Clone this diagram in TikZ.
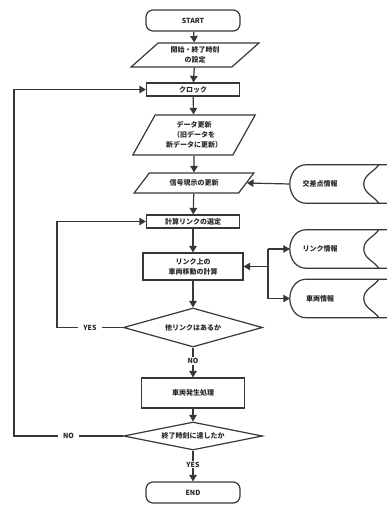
\documentclass[tikz,border=0pt]{standalone}
\usepackage{fontspec}
\setmainfont{Noto Sans CJK JP}
\usetikzlibrary{arrows.meta,shapes.geometric,calc}
\definecolor{fcInk} {RGB}{ 55, 55, 55}
\definecolor{fcText}{RGB}{ 40, 40, 40}

% outline of a stored-data symbol, open to the right edge
\newcommand\storeoutline[1]{%
  \draw[outline] ([xshift=97pt]#1.north west) -- ([xshift=16pt]#1.north west)
    to[out=180,in=90] (#1.west) to[out=-90,in=180] ([xshift=16pt]#1.south west)
    -- ([xshift=97pt]#1.south west);
  \draw[outline] ([xshift=89pt]#1.north west) to[out=-125,in=90] ([xshift=74pt]#1.west)
    to[out=-90,in=125] ([xshift=89pt]#1.south west);}

\begin{document}
\begin{tikzpicture}[x=1pt, y=-1pt,
  >={Triangle[length=6.5pt,width=7.5pt]},
  txt/.style={font=\fontsize{7}{10}\selectfont\bfseries, text=fcText, align=center},
  outline/.style={draw=fcInk, line width=1.2pt},
  base/.style={txt, outline, inner sep=1pt},
  term/.style={base, rounded corners=7pt, minimum width=94pt, minimum height=21pt},
  io/.style={base, trapezium, trapezium stretches=true,
             trapezium left angle=#1, trapezium right angle={180-#1}},
  proc/.style={base, rectangle, minimum height=13pt},
  test/.style={base, diamond, aspect=3.5, inner sep=0pt, minimum width=139pt},
  store/.style={txt, minimum width=60pt, minimum height=38pt, inner sep=0pt},
  flow/.style={->, outline},
  lbl/.style={txt, fill=white, inner ysep=1pt, inner xsep=5pt},
]
  \useasboundingbox (0,0) rectangle (387,505);

  % main column
  \node[term] (start) at (193, 20.5) {START};
  \node[io=45, minimum width=128pt, minimum height=24pt] (settime) at (195, 55)
       {開始・終了時刻\\の設定};
  \node[proc, minimum width=93pt] (clock) at (193, 89.5) {クロック};
  \node[io=60, minimum width=123pt, minimum height=40pt] (update) at (194, 135)
       {データ更新\\（旧データを\\新データに更新）};
  \node[io=45, minimum width=120pt, minimum height=20pt] (signal) at (194, 183)
       {信号現示の更新};
  \node[proc, minimum width=93pt] (select) at (193, 221.5) {計算リンクの選定};
  \node[proc, minimum width=100pt, minimum height=27pt] (move) at (193, 266.5)
       {リンク上の\\車両移動の計算};
  \node[test, minimum height=39pt] (other) at (193, 327.5) {他リンクはあるか};
  \node[proc, minimum width=103pt, minimum height=30pt] (gen) at (193, 393) {車両発生処理};
  \node[test, minimum height=28pt] (endq) at (193, 436) {終了時刻に達したか};
  \node[term] (stop) at (193, 492.5) {END};

  % stored data on the right
  \node[store] (cross) at (320, 184) {交差点情報};
  \node[store] (link)  at (320, 249) {リンク情報};
  \node[store] (car)   at (320, 298.5) {車両情報};
  \storeoutline{cross}
  \storeoutline{link}
  \storeoutline{car}

  \coordinate (jn) at (268, 266.5);
  \coordinate (yesback) at (57, 0);
  \coordinate (noback) at (14, 0);

  % straight flow
  \draw[flow] (start) -- (settime);
  \draw[flow] (settime) -- (clock);
  \draw[flow] (clock) -- (update);
  \draw[flow] (update) -- (signal);
  \draw[flow] (signal) -- (select);
  \draw[flow] (select) -- (move);
  \draw[flow] (move) -- (other);
  \draw[flow] (other) -- node[lbl, pos=0.45] {NO} (gen);
  \draw[flow] (gen) -- (endq);
  \draw[flow] (endq) -- node[lbl, pos=0.45] {YES} (stop);

  % data inputs
  \draw[flow] (cross.west) -- (signal.east);
  \draw[flow] (jn) -- (move.east);
  \draw[outline] (jn |- link.west) -- (jn |- car.west);
  \draw[flow] (jn |- link.west) -- (link.west);
  \draw[flow] (jn |- car.west) -- (car.west);

  % loops back
  \draw[flow] (other.west) -- node[lbl] {YES} (other.west -| yesback) |- (select.west);
  \draw[flow] (endq.west) -- node[lbl] {NO} (endq.west -| noback) |- (clock.west);
\end{tikzpicture}
\end{document}
